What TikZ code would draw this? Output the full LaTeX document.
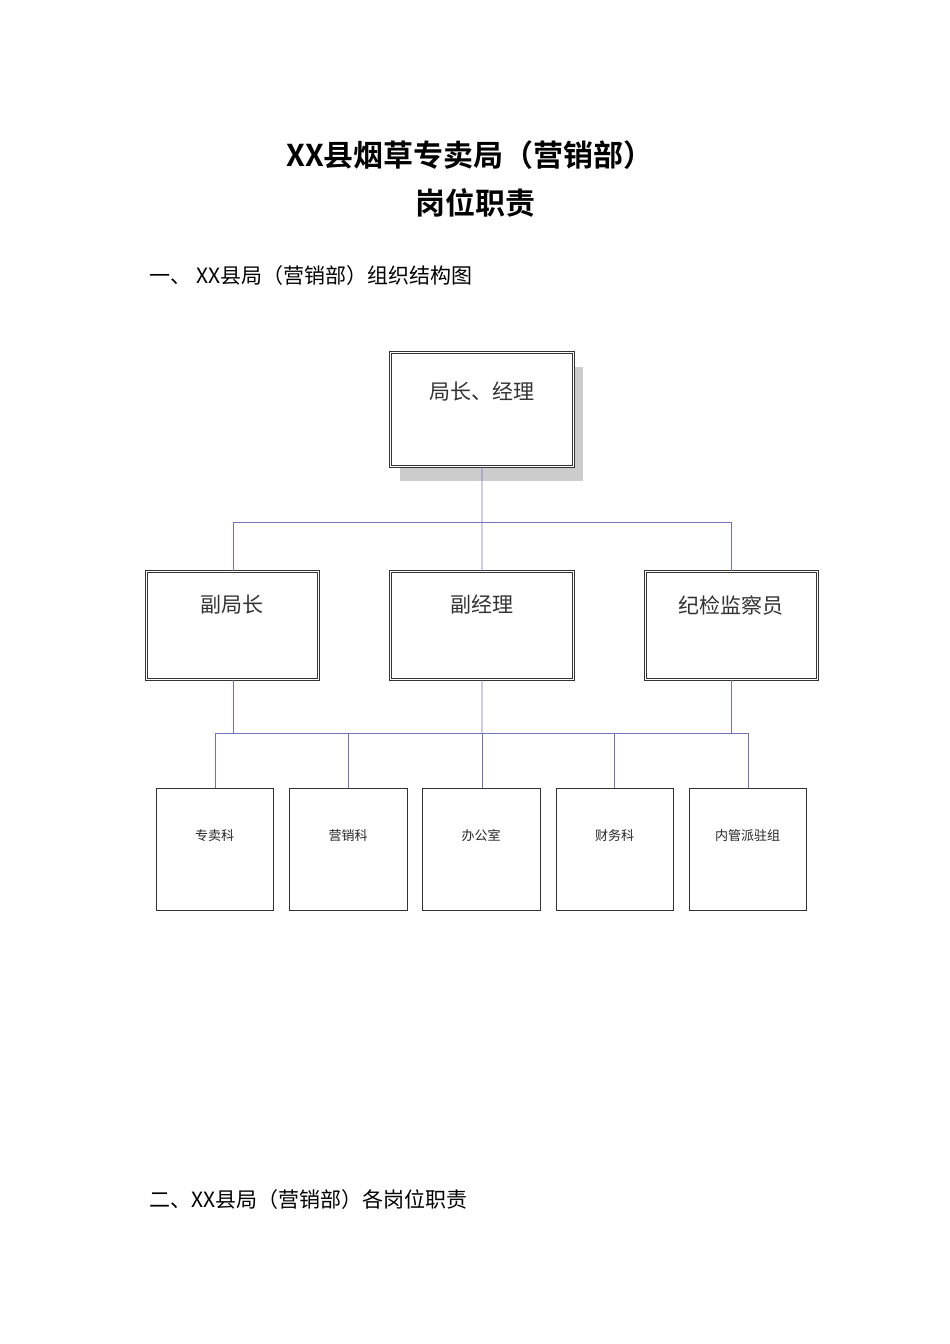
\documentclass[tikz,border=0pt]{standalone}
\usepackage{fontspec}
\newfontfamily\cjk{Noto Sans CJK SC}
\newfontfamily\cjkb{Noto Sans CJK SC Bold}
\begin{document}
\begin{tikzpicture}[x=1pt,y=-1pt,
  dbox/.style={draw=black!80,double=white,double distance=1.6pt,line width=0.8pt,fill=white,anchor=north west,inner sep=0pt},
  sbox/.style={draw=black!80,line width=0.8pt,fill=white,anchor=north west,inner sep=0pt},
  lbl/.style={font=\cjk\fontsize{21}{24}\selectfont,text=black!80},
  slbl/.style={font=\cjk\fontsize{13}{15}\selectfont,text=black!85},
  conn/.style={draw=blue!40!gray!80,line width=0.7pt}]
\useasboundingbox (0,0) rectangle (950,1344);
\node[font=\cjkb\fontsize{30}{34}\selectfont] (t1) at (470,155) {XX县烟草专卖局（营销部）};
\node[font=\cjkb\fontsize{30}{34}\selectfont] (t2) at (475,203) {岗位职责};
\node[font=\cjk\fontsize{21}{24}\selectfont,anchor=west] (h1) at (146,276) {一、 XX县局（营销部）组织结构图};
\node[font=\cjk\fontsize{21}{24}\selectfont,anchor=west] (h2) at (146,1200) {二、XX县局（营销部）各岗位职责};
% shadow
\fill[black!20] (400,367) rectangle (583,481);
\node[dbox,minimum width=183pt,minimum height=114pt] (top) at (390,352) {};
\node[lbl] at (482,392) {局长、经理};
\node[dbox,minimum width=172pt,minimum height=108pt] (a) at (146,571) {};
\node[dbox,minimum width=183pt,minimum height=108pt] (b) at (390,571) {};
\node[dbox,minimum width=172pt,minimum height=108pt] (c) at (645,571) {};
\node[lbl] at (232,605) {副局长};
\node[lbl] at (482,605) {副经理};
\node[lbl] at (731,605) {纪检监察员};
\foreach \n/\x/\w/\t in {d1/156/117/专卖科,d2/289/118/营销科,d3/422/118/办公室,d4/556/117/财务科,d5/689/117/内管派驻组}{
  \node[sbox,minimum width=\w pt,minimum height=122pt] (\n) at (\x,788) {};
  \node[slbl] at (\x+\w/2,836) {\t};
}
\coordinate (j1) at (482,522);
\draw[conn] (top.south) -- (j1);
\draw[conn] (233,522) -- (731,522);
\draw[conn] (233,522) -- (a.north -| 233,0);
\draw[conn] (j1) -- (b.north);
\draw[conn] (731,522) -- (c.north -| 731,0);
\draw[conn] (a.south -| 233,0) -- (233,733);
\draw[conn] (b.south) -- (482,733);
\draw[conn] (c.south -| 731,0) -- (731,733);
\draw[conn] (215,733) -- (748,733);
\foreach \n/\x in {d1/215,d2/348,d3/482,d4/614,d5/748}{
  \draw[conn] (\x,733) -- (\n.north -| \x,0);
}
\end{tikzpicture}
\end{document}
